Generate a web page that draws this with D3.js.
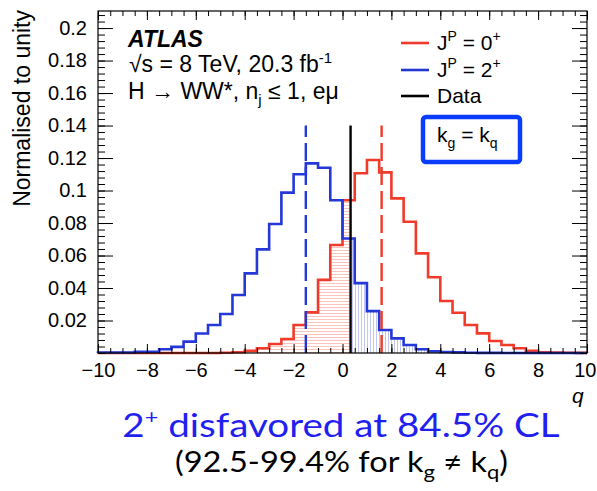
<!DOCTYPE html>
<html>
<head>
<meta charset="utf-8">
<script src="https://cdn.jsdelivr.net/npm/d3@7"></script>
<style>
  html, body { margin: 0; padding: 0; background: #fff; }
  svg { display: block; }
  .ax text { font-family: "Liberation Sans", Arial, sans-serif; font-size: 20px; fill: #000; }
  .ax line { stroke: #000; stroke-width: 1; }
</style>
</head>
<body>
<svg id="chart" width="597" height="491"></svg>
<script>
// Bin layout of the q distributions
const qMin = -10, qMax = 10, binWidth = 0.5;

// Normalised pseudo-experiment distributions, one value per 0.5-wide bin from q = -10 to 10
const spin0Values = [
  0, 0, 0, 0, 0, 0, 0, 0, 0, 0,
  0.0002, 0.0005, 0.0014, 0.0029, 0.0055, 0.0086, 0.0172, 0.025, 0.045, 0.0665,
  0.094, 0.1106, 0.1188, 0.1112, 0.0952, 0.0808, 0.0613, 0.0466, 0.032, 0.0248,
  0.0172, 0.0121, 0.0074, 0.0049, 0.0029, 0.0014, 0.0005, 0.0003, 0.0002, 0.0001
];
const spin2Values = [
  0.0003, 0.0003, 0.0003, 0.0008, 0.0008, 0.0023, 0.0038, 0.007, 0.012, 0.0172,
  0.024, 0.0357, 0.049, 0.0638, 0.0794, 0.0987, 0.110, 0.1167, 0.114, 0.094,
  0.0705, 0.043, 0.0258, 0.0142, 0.009, 0.0049, 0.0023, 0.001, 0.0006, 0.0004,
  0.0002, 0.0001, 0.0001, 0, 0, 0, 0, 0, 0, 0
];

// Medians of the two hypotheses and the observed value
const spin0Median = 1.6;
const spin2Median = -1.5;
const observedQ = 0.33;
const markerHeight = 0.14;

// Axis ticks
const xMajorTicks = [-10, -8, -6, -4, -2, 0, 2, 4, 6, 8, 10];
const yMajorTicks = [0.02, 0.04, 0.06, 0.08, 0.1, 0.12, 0.14, 0.16, 0.18, 0.2];
const yTickLabels = ["0.02", "0.04", "0.06", "0.08", "0.1", "0.12", "0.14", "0.16", "0.18", "0.2"];

const red = "#f03a2a", blue = "#2438d8";

const svg = d3.select("#chart");
const L = 98, R = 587, T = 11, B = 353;
const x = d3.scaleLinear().domain([qMin, qMax]).range([L, R]);
const y = d3.scaleLinear().domain([0, 0.2105]).range([B, T]);

const nBins = spin0Values.length;
const edges = d3.range(nBins + 1).map(i => qMin + i * binWidth);
const xMinor = d3.range(qMin, qMax + 0.001, 0.5);
const yMinor = d3.range(0, 0.2101, 0.004);

// Hatch patterns
const defs = svg.append("defs");
const pr = defs.append("pattern").attr("id", "hatchRed").attr("patternUnits", "userSpaceOnUse")
  .attr("width", 4).attr("height", 3);
pr.append("line").attr("x1", 0).attr("x2", 4).attr("y1", 1.5).attr("y2", 1.5)
  .attr("stroke", "#f7b4ad").attr("stroke-width", 0.8);
const pb = defs.append("pattern").attr("id", "hatchBlue").attr("patternUnits", "userSpaceOnUse")
  .attr("width", 3).attr("height", 4);
pb.append("line").attr("x1", 1.5).attr("x2", 1.5).attr("y1", 0).attr("y2", 4)
  .attr("stroke", "#b4b6f0").attr("stroke-width", 0.8);

defs.append("clipPath").attr("id", "leftOfData").append("rect")
  .attr("x", x(qMin)).attr("y", T).attr("width", x(observedQ) - x(qMin)).attr("height", B - T);
defs.append("clipPath").attr("id", "rightOfData").append("rect")
  .attr("x", x(observedQ)).attr("y", T).attr("width", x(qMax) - x(observedQ)).attr("height", B - T);

function stepPoints(vals) {
  const pts = [[edges[0], 0]];
  vals.forEach((v, i) => { pts.push([edges[i], v]); pts.push([edges[i + 1], v]); });
  pts.push([edges[nBins], 0]);
  return pts;
}
const line = d3.line().x(d => x(d[0])).y(d => y(d[1]));

// Tail areas beyond the observed value
svg.append("path").attr("d", line(stepPoints(spin0Values)) + "Z")
  .attr("fill", "url(#hatchRed)").attr("clip-path", "url(#leftOfData)");
svg.append("path").attr("d", line(stepPoints(spin2Values)) + "Z")
  .attr("fill", "url(#hatchBlue)").attr("clip-path", "url(#rightOfData)");

// Histogram outlines
svg.append("path").attr("d", line(stepPoints(spin0Values)))
  .attr("fill", "none").attr("stroke", red).attr("stroke-width", 2.6);
svg.append("path").attr("d", line(stepPoints(spin2Values)))
  .attr("fill", "none").attr("stroke", blue).attr("stroke-width", 2.6);

// Median markers and observed value
function vline(q, color, dash) {
  svg.append("line").attr("x1", x(q)).attr("x2", x(q)).attr("y1", y(0)).attr("y2", y(markerHeight))
    .attr("stroke", color).attr("stroke-width", 2.4).attr("stroke-dasharray", dash);
}
vline(spin2Median, blue, "18,6");
vline(spin0Median, red, "18,6");
vline(observedQ, "#000", null);

// Axes with inward ticks on all four sides
function axisGroup(axis, tx, ty) {
  const g = svg.append("g").attr("class", "ax").attr("transform", `translate(${tx},${ty})`).call(axis);
  g.select(".domain").remove();
  return g;
}
const xAxisG = axisGroup(d3.axisBottom(x).tickValues(xMajorTicks).tickSize(-9).tickPadding(10)
  .tickFormat(d => d < 0 ? "\u2212" + Math.abs(d) : String(d)), 0, B);
// keep the last label inside the canvas
xAxisG.selectAll(".tick text").filter(d => d === qMax).attr("text-anchor", "end").attr("x", 9);
axisGroup(d3.axisBottom(x).tickValues(xMinor).tickSize(-5).tickFormat(""), 0, B);
axisGroup(d3.axisTop(x).tickValues(xMajorTicks).tickSize(-9).tickFormat(""), 0, T);
axisGroup(d3.axisTop(x).tickValues(xMinor).tickSize(-5).tickFormat(""), 0, T);
axisGroup(d3.axisLeft(y).tickValues(yMajorTicks).tickSize(-15).tickPadding(11)
  .tickFormat((d, i) => yTickLabels[i]), L, 0);
axisGroup(d3.axisLeft(y).tickValues(yMinor).tickSize(-7).tickFormat(""), L, 0);
axisGroup(d3.axisRight(y).tickValues(yMajorTicks).tickSize(-15).tickFormat(""), R, 0);
axisGroup(d3.axisRight(y).tickValues(yMinor).tickSize(-7).tickFormat(""), R, 0);

svg.append("rect").attr("x", L).attr("y", T).attr("width", R - L).attr("height", B - T)
  .attr("fill", "none").attr("stroke", "#000").attr("stroke-width", 1.2);

const font = "Liberation Sans, Arial, sans-serif";

// Axis titles
svg.append("text").attr("transform", "translate(30,10) rotate(-90)").attr("text-anchor", "end")
  .attr("font-family", font).attr("font-size", 23).text("Normalised to unity");
svg.append("text").attr("x", 572).attr("y", 403).attr("font-family", font).attr("font-size", 21)
  .attr("font-style", "italic").text("q");

// Experiment labels
svg.append("text").attr("x", 128).attr("y", 47).attr("font-family", font).attr("font-size", 23)
  .attr("font-weight", "bold").attr("font-style", "italic").text("ATLAS");
const t1 = svg.append("text").attr("x", 129).attr("y", 72).attr("font-family", font).attr("font-size", 23);
t1.append("tspan").text("\u221As = 8 TeV, 20.3 fb");
t1.append("tspan").attr("dy", -9).attr("font-size", 15).text("-1");
const t2 = svg.append("text").attr("x", 128).attr("y", 99).attr("font-family", font).attr("font-size", 23);
t2.append("tspan").text("H \u2192 WW*, n");
t2.append("tspan").attr("dy", 6).attr("font-size", 15).text("j");
t2.append("tspan").attr("dy", -6).text(" \u2264 1, e\u03BC");

// Legend
const legend = [
  { color: red, label: ["J", "P", " = 0", "+"], y: 50 },
  { color: blue, label: ["J", "P", " = 2", "+"], y: 77 },
  { color: "#000", label: ["Data"], y: 103 }
];
legend.forEach(e => {
  svg.append("line").attr("x1", 401).attr("x2", 429).attr("y1", e.y - 7).attr("y2", e.y - 7)
    .attr("stroke", e.color).attr("stroke-width", 2.6);
  const t = svg.append("text").attr("x", 437).attr("y", e.y).attr("font-family", font).attr("font-size", 21);
  if (e.label.length === 1) { t.text(e.label[0]); return; }
  t.append("tspan").text(e.label[0]);
  t.append("tspan").attr("dy", -9).attr("font-size", 14).text(e.label[1]);
  t.append("tspan").attr("dy", 9).text(e.label[2]);
  t.append("tspan").attr("dy", -9).attr("font-size", 14).text(e.label[3]);
});

// Coupling scenario box
svg.append("rect").attr("x", 423).attr("y", 117).attr("width", 97).attr("height", 45).attr("rx", 3)
  .attr("fill", "#fff").attr("stroke", "#0a3cff").attr("stroke-width", 4.5);
const kb = svg.append("text").attr("x", 437).attr("y", 142).attr("font-family", font).attr("font-size", 21);
kb.append("tspan").text("k");
kb.append("tspan").attr("dy", 6).attr("font-size", 14).text("g");
kb.append("tspan").attr("dy", -6).text(" = k");
kb.append("tspan").attr("dy", 6).attr("font-size", 14).text("q");

// Result statement, widened horizontally
const bigFont = "Lato, 'Open Sans', sans-serif";
const s1 = svg.append("text").attr("transform", "translate(341,437) scale(1.17,1)")
  .attr("text-anchor", "middle")
  .attr("font-family", bigFont).attr("font-size", 33).attr("fill", "#1f1ff0");
s1.append("tspan").text("2");
s1.append("tspan").attr("dy", -13).attr("font-size", 20).text("+");
s1.append("tspan").attr("dy", 13).text(" disfavored at 84.5% CL");
const s2 = svg.append("text").attr("transform", "translate(341.5,472) scale(1.16,1)")
  .attr("text-anchor", "middle")
  .attr("font-family", bigFont).attr("font-size", 28).attr("fill", "#000");
s2.append("tspan").text("(92.5-99.4% for k");
s2.append("tspan").attr("dy", 7).attr("font-size", 19).text("g");
s2.append("tspan").attr("dy", -7).text(" \u2260 k");
s2.append("tspan").attr("dy", 7).attr("font-size", 19).text("q");
s2.append("tspan").attr("dy", -7).text(")");
</script>
</body>
</html>
